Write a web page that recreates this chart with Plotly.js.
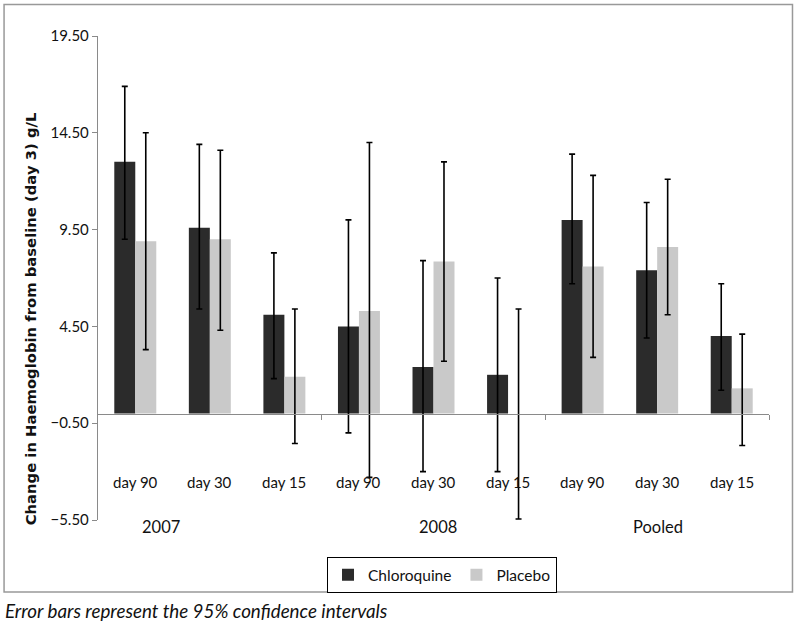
<!DOCTYPE html>
<html>
<head>
<meta charset="utf-8">
<script src="https://cdn.plot.ly/plotly-3.0.1.min.js"></script>
<style>html,body{margin:0;padding:0;background:#fff;}#chart{width:797px;height:627px;}</style>
</head>
<body>
<div id="chart"></div>
<script>
// Data
const categories = ['day 90','day 30','day 15','day 90','day 30','day 15','day 90','day 30','day 15'];
const groups = ['2007','2008','Pooled'];
const chloroquine      = [13.0, 9.6, 5.1, 4.5, 2.4, 2.0, 10.0, 7.4, 4.0];
const chloroquineUpper = [16.9, 13.9, 8.3, 10.0, 7.9, 7.0, 13.4, 10.9, 6.7];
const chloroquineLower = [9.0, 5.4, 1.8, -1.0, -3.0, -3.0, 6.7, 3.9, 1.2];
const placebo      = [8.9, 9.0, 1.9, 5.3, 7.85, 0.0, 7.6, 8.6, 1.3];
const placeboUpper = [14.5, 13.6, 5.4, 14.0, 13.0, 5.4, 12.3, 12.1, 4.1];
const placeboLower = [3.3, 4.3, -1.55, -3.3, 2.7, -5.45, 2.9, 5.1, -1.65];
const yTicks = [-5.5, -0.5, 4.5, 9.5, 14.5, 19.5];

const FONT = 'Lato, "Open Sans", "DejaVu Sans", sans-serif';
const xpos = categories.map((_, i) => i);

const traces = [
  {
    type: 'bar', name: 'Chloroquine', x: xpos, y: chloroquine,
    marker: {color: '#2b2b2b'},
    error_y: {type: 'data', symmetric: false,
      array: chloroquineUpper.map((u, i) => u - chloroquine[i]),
      arrayminus: chloroquineLower.map((l, i) => chloroquine[i] - l),
      color: '#000', thickness: 1.6, width: 3}
  },
  {
    type: 'bar', name: 'Placebo', x: xpos, y: placebo,
    marker: {color: '#c9c9c9'},
    error_y: {type: 'data', symmetric: false,
      array: placeboUpper.map((u, i) => u - placebo[i]),
      arrayminus: placeboLower.map((l, i) => placebo[i] - l),
      color: '#000', thickness: 1.6, width: 3}
  }
];

const annotations = [];
categories.forEach((c, i) => {
  annotations.push({x: i, y: -3.56, xref: 'x', yref: 'y', text: c, showarrow: false,
    font: {family: FONT, size: 15, color: '#111'}, xanchor: 'center', yanchor: 'middle'});
});
const groupX = [0.094, 0.507, 0.835];
groups.forEach((g, i) => {
  annotations.push({x: groupX[i], y: -0.0145, xref: 'paper', yref: 'paper', text: g, showarrow: false,
    font: {family: FONT, size: 16.5, color: '#111'}, xanchor: 'center', yanchor: 'middle'});
});
annotations.push({x: -0.101, y: 0.415, xref: 'paper', yref: 'paper', textangle: -90,
  text: '<b>Change in Haemoglobin from baseline (day 3) g/L</b>', showarrow: false,
  font: {family: '"DejaVu Sans", sans-serif', size: 14.8, color: '#111'}, xanchor: 'center', yanchor: 'middle'});
annotations.push({x: -0.1416, y: -0.188, xref: 'paper', yref: 'paper', xanchor: 'left', yanchor: 'middle',
  text: '<i>Error bars represent the 95% confidence intervals</i>', showarrow: false,
  font: {family: FONT, size: 18.8, color: '#111'}});

const layout = {
  width: 797, height: 627,
  margin: {l: 98, r: 28, t: 36, b: 107},
  paper_bgcolor: '#fff', plot_bgcolor: '#fff',
  barmode: 'group', bargap: 0.437, bargroupgap: 0,
  showlegend: true,
  legend: {orientation: 'h', x: 0.341, y: -0.0764, xanchor: 'left', yanchor: 'top',
    bordercolor: '#000', borderwidth: 1.2, font: {family: FONT, size: 15.5, color: '#111'},
    itemwidth: 30, tracegroupgap: 0},
  xaxis: {type: 'linear', range: [-0.5, 8.5], anchor: 'free', position: 0.22,
    showline: true, linecolor: '#8a8a8a', linewidth: 1.2, ticks: 'outside', ticklen: 5,
    tickcolor: '#8a8a8a', tickvals: [2.5, 5.5, 8.5], showticklabels: false,
    showgrid: false, zeroline: false, fixedrange: true},
  yaxis: {range: [-5.5, 19.5], tickvals: yTicks, tickformat: '.2f',
    showline: true, linecolor: '#8a8a8a', linewidth: 1.2, ticks: 'outside', ticklen: 5,
    tickcolor: '#8a8a8a', showgrid: false, zeroline: false,
    tickfont: {family: FONT, size: 15, color: '#111'}},
  annotations: annotations,
  shapes: [{type: 'rect', xref: 'paper', yref: 'paper', x0: -0.140, x1: 1.035, y0: -0.1488, y1: 1.065,
    line: {color: '#999', width: 1.5}, fillcolor: 'rgba(0,0,0,0)', layer: 'below'}]
};

Plotly.newPlot('chart', traces, layout, {displayModeBar: false, staticPlot: true});
</script>
</body>
</html>
